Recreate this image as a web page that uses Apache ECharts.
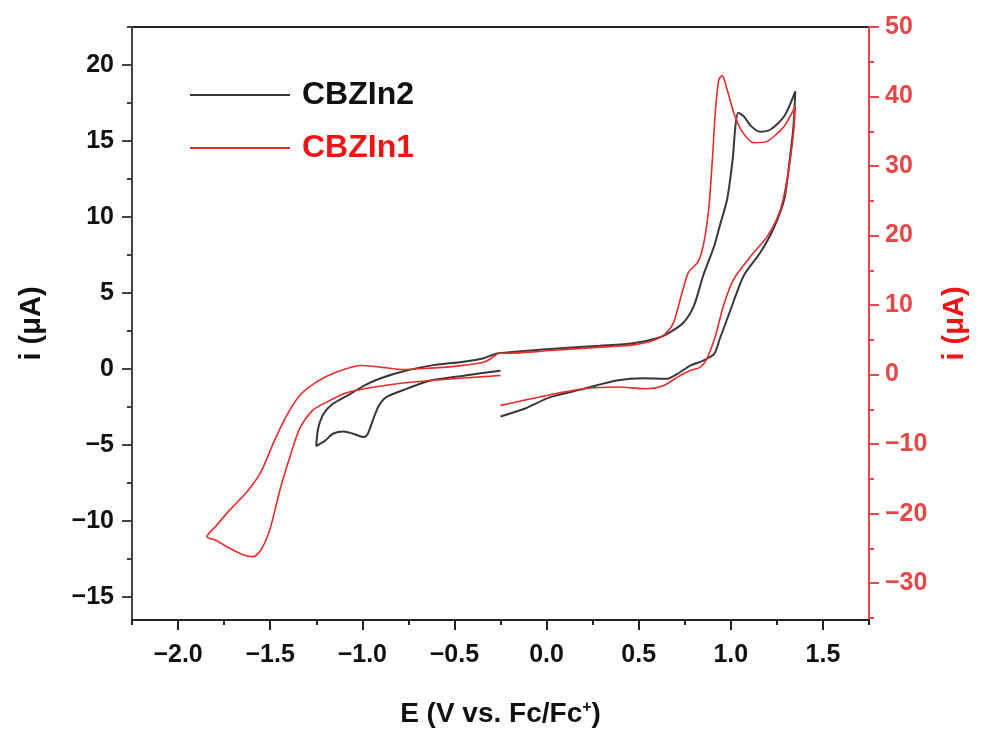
<!DOCTYPE html>
<html>
<head>
<meta charset="utf-8">
<script src="https://cdn.jsdelivr.net/npm/echarts@6/dist/echarts.min.js"></script>
<style>
html,body{margin:0;padding:0;background:#fff;}
#chart{width:988px;height:733px;}
</style>
</head>
<body>
<div id="chart"></div>
<script>
// ---- Data (E in V vs Fc/Fc+, i in µA) ----
// CBZIn2 (left axis)
const cbzin2E = [-0.25,-0.45,-0.63,-0.76,-0.87,-0.91,-0.94,-0.97,-0.99,-1.05,-1.10,-1.16,-1.20,-1.25,
  -1.24,-1.21,-1.16,-1.065,-0.99,-0.90,-0.776,-0.63,-0.45,-0.34,-0.29,-0.25,
  0.02,0.29,0.47,0.60,0.67,0.745,0.80,0.85,0.91,0.94,0.98,1.01,1.025,1.04,1.07,1.11,1.16,1.215,1.29,1.35,
  1.34,1.32,1.29,1.23,1.16,1.07,1.00,0.94,0.91,0.85,0.78,0.71,0.65,0.53,0.38,0.20,0.02,-0.12,-0.25];
const cbzin2I = [-0.10,-0.43,-0.75,-1.30,-1.84,-2.40,-3.27,-4.25,-4.47,-4.25,-4.10,-4.25,-4.69,-5.06,
  -3.92,-2.94,-2.28,-1.63,-1.08,-0.60,-0.14,0.23,0.49,0.72,0.95,1.06,
  1.33,1.54,1.70,2.03,2.42,3.08,4.17,6.14,8.10,9.42,11.17,13.79,15.98,16.86,16.63,15.98,15.61,15.76,16.63,18.27,
  15.98,13.79,11.17,9.20,7.67,6.14,3.95,1.98,1.00,0.56,0.23,-0.31,-0.64,-0.60,-0.75,-1.30,-1.84,-2.61,-3.12];
// CBZIn1 (right axis)
const cbzin1E = [-0.25,-0.45,-0.63,-0.81,-0.99,-1.10,-1.21,-1.27,-1.34,-1.39,-1.445,-1.50,-1.545,-1.59,-1.645,-1.72,-1.79,-1.843,
  -1.79,-1.72,-1.626,-1.55,-1.48,-1.41,-1.34,-1.25,-1.14,-1.01,-0.90,-0.776,-0.63,-0.49,-0.34,-0.29,-0.26,-0.21,
  0.02,0.29,0.47,0.58,0.645,0.69,0.736,0.77,0.82,0.85,0.88,0.90,0.917,0.935,0.953,0.98,1.016,1.06,1.125,1.20,1.29,1.35,
  1.34,1.315,1.27,1.20,1.11,1.016,0.96,0.917,0.87,0.835,0.78,0.71,0.636,0.546,0.38,0.20,0.02,-0.25];
const cbzin1I = [-0.13,-0.50,-0.85,-1.32,-2.04,-2.75,-4.19,-5.15,-7.78,-11.61,-16.38,-22.12,-24.99,-26.18,-25.95,-24.99,-23.89,-23.31,
  -21.65,-19.50,-16.86,-13.99,-9.68,-5.87,-3.00,-1.08,0.36,1.31,1.08,0.73,0.93,1.22,1.79,2.51,3.08,3.08,
  3.46,3.95,4.28,4.89,5.85,7.53,11.84,14.71,16.14,18.52,23.79,30.96,38.13,42.44,43.01,41.00,37.66,35.02,33.36,33.59,35.74,38.61,
  34.79,29.53,23.79,19.96,17.09,13.74,9.91,5.61,2.27,1.08,0.59,-0.36,-1.56,-2.04,-1.79,-2.04,-2.90,-4.43];

// ---- Tick labels ----
const xTicks = [-2.0,-1.5,-1.0,-0.5,0.0,0.5,1.0,1.5];
const xMinorTicks = [-2.25,-1.75,-1.25,-0.75,-0.25,0.25,0.75,1.25,1.75];
const leftTicks = [-15,-10,-5,0,5,10,15,20];
const leftMinorTicks = [-12.5,-7.5,-2.5,2.5,7.5,12.5,17.5,22.5];
const rightTicks = [-30,-20,-10,0,10,20,30,40,50];
const rightMinorTicks = [-35,-25,-15,-5,5,15,25,35,45];

const seriesNames = ['CBZIn2','CBZIn1'];

const FONT = 'Liberation Sans, Arial, sans-serif';
const BLACK = '#383838';
const RED = '#ec2a2a';
const AXRED = '#e8474a';
const minus = v => (v < 0 ? '\u2212' : '') + Math.abs(v);
const minus1 = v => (v < 0 ? '\u2212' : '') + Math.abs(v).toFixed(1);

const zip = (a, b) => a.map((x, k) => [x, b[k]]);

const chart = echarts.init(document.getElementById('chart'), null, {renderer: 'canvas'});
const gridPos = {left: 132, top: 27, width: 737, height: 595};

chart.setOption({
  animation: false,
  backgroundColor: '#ffffff',
  grid: Object.assign({show: true, borderColor: '#222', borderWidth: 2, backgroundColor: 'transparent', containLabel: false}, gridPos),
  legend: {
    orient: 'vertical', left: 185, top: 74, itemGap: 21,
    icon: 'rect', itemWidth: 100, itemHeight: 2,
    textStyle: {fontFamily: FONT, fontWeight: 'bold', fontSize: 32, padding: [0, 0, 0, 7]},
    data: [
      {name: seriesNames[0], textStyle: {color: '#111'}},
      {name: seriesNames[1], textStyle: {color: '#f01414'}}
    ]
  },
  xAxis: [
    {
      type: 'value', position: 'bottom', min: -2.25, max: 1.75,
      axisLine: {onZero: false, lineStyle: {color: '#222', width: 2}},
      splitLine: {show: false},
      axisTick: {inside: false, length: 10, lineStyle: {color: '#222', width: 2}, customValues: xTicks},
      axisLabel: {customValues: xTicks, formatter: minus1, margin: 23, color: '#111', fontFamily: FONT, fontWeight: 'bold', fontSize: 25},
      name: '{a|E (V vs. Fc/Fc}{s|+}{a|)}', nameLocation: 'middle', nameGap: 80,
      nameTextStyle: {rich: {
        a: {fontFamily: FONT, fontWeight: 'bold', fontSize: 28, color: '#111'},
        s: {fontFamily: FONT, fontWeight: 'bold', fontSize: 16, color: '#111', verticalAlign: 'top', padding: [0, 0, 12, 0]}
      }}
    },
    {
      type: 'value', position: 'bottom', min: -2.25, max: 1.75,
      axisLine: {show: false, onZero: false}, splitLine: {show: false}, axisLabel: {show: false},
      axisTick: {inside: false, length: 5, lineStyle: {color: '#222', width: 2}, customValues: xMinorTicks}
    }
  ],
  yAxis: [
    {
      type: 'value', position: 'left', min: -16.5, max: 22.5,
      axisLine: {show: true, onZero: false, lineStyle: {color: '#444', width: 2}},
      splitLine: {show: false},
      axisTick: {show: true, inside: false, length: 10, lineStyle: {color: '#444', width: 2}, customValues: leftTicks},
      axisLabel: {customValues: leftTicks, formatter: minus, margin: 18, color: '#111', fontFamily: FONT, fontWeight: 'bold', fontSize: 25},
      name: 'i (\u03bcA)', nameLocation: 'middle', nameRotate: 90, nameGap: 86,
      nameTextStyle: {fontFamily: FONT, fontWeight: 'bold', fontSize: 29, color: '#111'}
    },
    {
      type: 'value', position: 'right', min: -35.3, max: 50,
      axisLine: {show: true, onZero: false, lineStyle: {color: AXRED, width: 2}},
      splitLine: {show: false},
      axisTick: {show: true, inside: false, length: 10, lineStyle: {color: AXRED, width: 2}, customValues: rightTicks},
      axisLabel: {customValues: rightTicks, formatter: minus, margin: 16, color: AXRED, fontFamily: FONT, fontWeight: 'bold', fontSize: 25},
      name: 'i (\u03bcA)', nameLocation: 'middle', nameRotate: 90, nameGap: 71,
      nameTextStyle: {fontFamily: FONT, fontWeight: 'bold', fontSize: 29, color: '#f01414'}
    },
    {
      type: 'value', position: 'left', min: -16.5, max: 22.5,
      axisLine: {show: false, onZero: false}, splitLine: {show: false}, axisLabel: {show: false},
      axisTick: {show: true, inside: false, length: 5, lineStyle: {color: '#444', width: 2}, customValues: leftMinorTicks}
    },
    {
      type: 'value', position: 'right', min: -35.3, max: 50,
      axisLine: {show: false, onZero: false}, splitLine: {show: false}, axisLabel: {show: false},
      axisTick: {show: true, inside: false, length: 5, lineStyle: {color: AXRED, width: 2}, customValues: rightMinorTicks}
    }
  ],
  series: [
    {
      name: seriesNames[0], type: 'line', xAxisIndex: 0, yAxisIndex: 0,
      data: zip(cbzin2E, cbzin2I), showSymbol: false, symbol: 'none', smooth: 0.25,
      lineStyle: {color: BLACK, width: 2}, itemStyle: {color: BLACK}
    },
    {
      name: seriesNames[1], type: 'line', xAxisIndex: 0, yAxisIndex: 1,
      data: zip(cbzin1E, cbzin1I), showSymbol: false, symbol: 'none', smooth: 0.25,
      lineStyle: {color: RED, width: 1.6}, itemStyle: {color: RED}
    }
  ]
});
</script>
</body>
</html>
